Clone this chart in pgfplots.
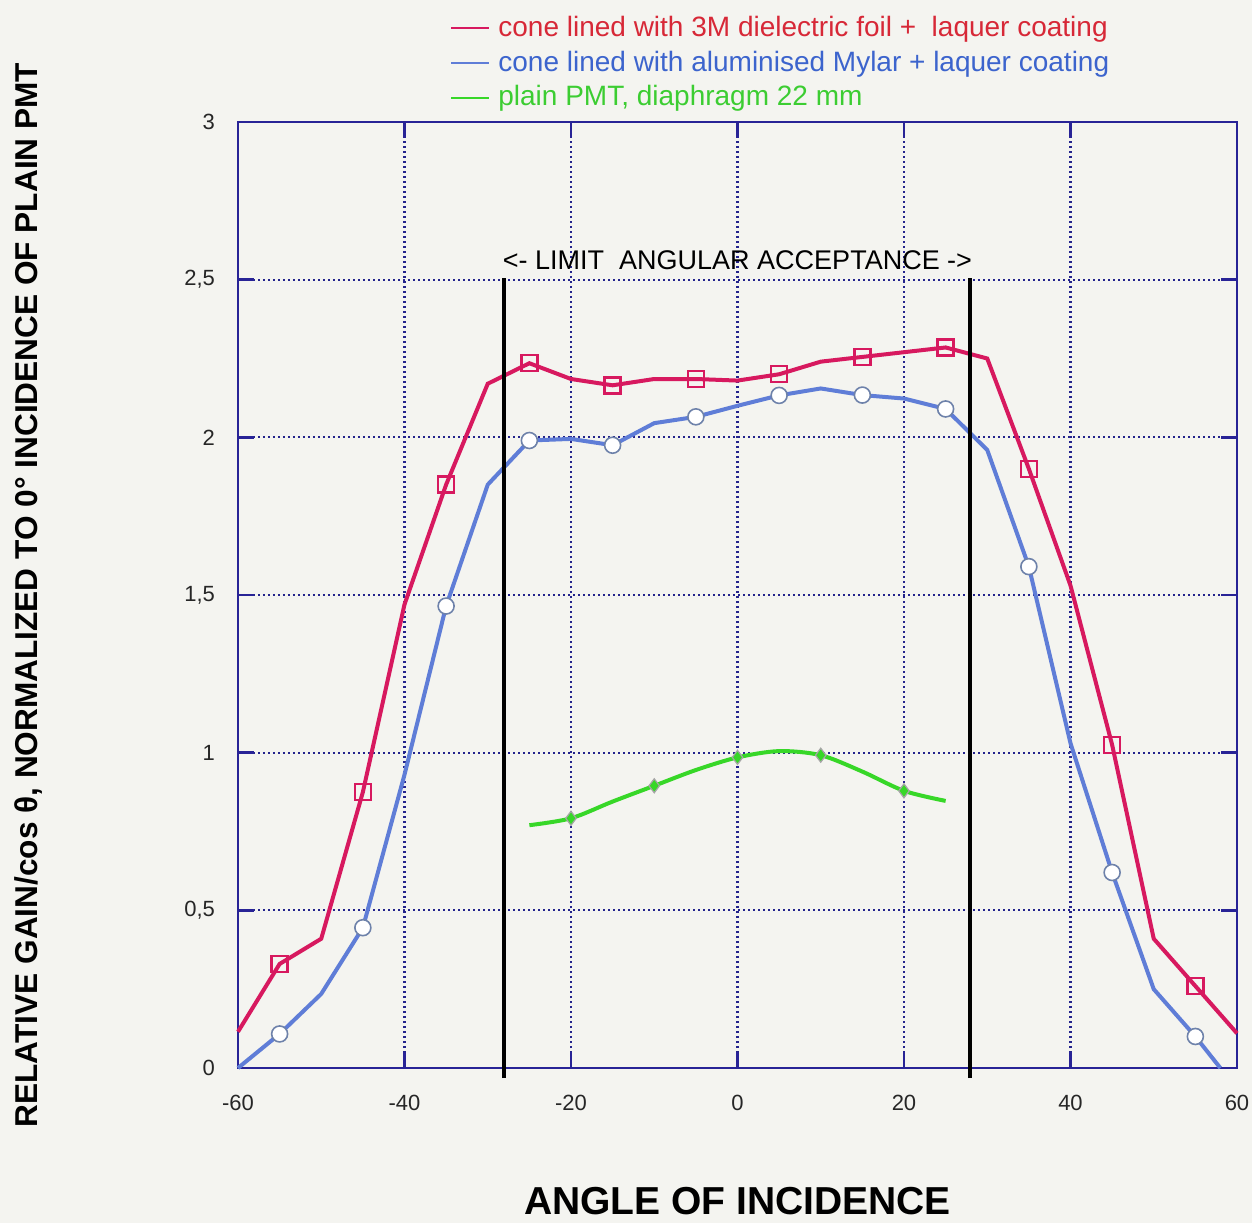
\documentclass[border=0pt]{standalone}
\usepackage{pgfplots}
\pgfplotsset{compat=1.18}
\usepackage{fontspec}
\setmainfont{Liberation Sans}
\definecolor{bg}{RGB}{244,244,240}
\definecolor{frame}{RGB}{40,35,150}
\definecolor{gridc}{RGB}{35,35,140}
\definecolor{redc}{RGB}{215,25,95}
\definecolor{bluec}{RGB}{95,125,215}
\definecolor{greenc}{RGB}{55,215,40}
\definecolor{legred}{RGB}{215,40,55}
\definecolor{legblue}{RGB}{60,100,205}
\definecolor{leggreen}{RGB}{60,205,50}
\definecolor{circc}{RGB}{110,130,170}
\begin{document}
\begin{tikzpicture}
\fill[bg] (-119pt,-77.5pt) rectangle (507pt,534pt);
\path[use as bounding box] (-119pt,-77.5pt) rectangle (507pt,534pt);
\begin{axis}[
  scale only axis, width=499.5pt, height=473pt,
  xmin=-60, xmax=60, ymin=0, ymax=3,
  xtick={-60,-40,...,60}, ytick={0,0.5,1,1.5,2,2.5,3},
  axis line style={draw=frame, line width=1pt},
  grid=major, major grid style={draw=gridc, dash pattern=on 1pt off 1.5pt, line width=1.1pt},
  tick align=inside, tick pos=both, major tick length=8pt,
  major tick style={draw=frame, line width=1.3pt},
  xticklabel pos=left, yticklabel pos=left,
  /pgf/number format/use comma, /pgf/number format/assume math mode=true,
  ticklabel style={font=\fontsize{11}{13}\selectfont, text=black!85},
  xticklabel style={yshift=-10pt}, yticklabel style={xshift=-8pt},
  clip=false,
  xlabel={ANGLE OF INCIDENCE},
  xlabel style={at={(axis description cs:0.5,-0.141)}, anchor=center, font=\bfseries\fontsize{19.5}{21}\selectfont},
  ylabel={RELATIVE GAIN/cos θ, NORMALIZED TO 0° INCIDENCE OF PLAIN PMT},
  every axis y label/.style={at={(axis description cs:-0.21,0.5)}, rotate=90, anchor=center, font=\bfseries\fontsize{15.8}{17}\selectfont},
  legend style={at={(axis description cs:0.2122,1.1163)}, anchor=north west, draw=none, fill=none,
     font=\fontsize{14}{16}\selectfont, inner sep=0pt, row sep=1.4pt,
     nodes={inner sep=1pt, text height=11pt, text depth=3pt}},
  legend cell align=left,
  legend image code/.code={\draw[#1, mark=none, line width=1pt] (0pt,0pt) -- (19pt,0pt);},
]
\addplot[redc, line width=2pt, mark=square, mark size=4pt, mark repeat=2, mark phase=2,
  mark options={draw=redc, fill=bg, line width=1.2pt}] coordinates {
(-60,0.115) (-55,0.33) (-50,0.41) (-45,0.875) (-40,1.47) (-35,1.85) (-30,2.17)
(-25,2.235) (-20,2.185) (-15,2.165) (-10,2.185) (-5,2.185) (0,2.18) (5,2.20)
(10,2.24) (15,2.255) (20,2.27) (25,2.285) (30,2.25) (35,1.90) (40,1.53)
(45,1.025) (50,0.41) (55,0.26) (60,0.11)};
\addlegendentry{\hspace{3pt}\textcolor{legred}{cone lined with 3M dielectric foil +\ \ laquer coating}}
\addplot[bluec, line width=2pt, mark=*, mark size=4pt, mark repeat=2, mark phase=2,
  mark options={draw=circc, fill=white, line width=0.8pt}] coordinates {
(-60,0.0) (-55,0.108) (-50,0.235) (-45,0.445) (-40,0.93) (-35,1.465) (-30,1.85)
(-25,1.99) (-20,1.995) (-15,1.975) (-10,2.045) (-5,2.065) (0,2.10) (5,2.133)
(10,2.155) (15,2.134) (20,2.123) (25,2.09) (30,1.96) (35,1.59) (40,1.03)
(45,0.62) (50,0.25) (55,0.10) (58,0.0)};
\addlegendentry{\hspace{3pt}\textcolor{legblue}{cone lined with aluminised Mylar + laquer coating}}
\addplot[greenc, line width=2pt, smooth, mark=diamond*, mark size=3.5pt, mark repeat=2, mark phase=2,
  mark options={draw=gray!70, fill=greenc, line width=0.6pt}] coordinates {
(-25,0.77) (-20,0.792) (-15,0.845) (-10,0.895) (-5,0.945) (0,0.985) (5,1.005)
(10,0.992) (15,0.94) (20,0.879) (25,0.847)};
\addlegendentry{\hspace{3pt}\textcolor{leggreen}{plain PMT, diaphragm 22 mm}}
\addplot[black, line width=2pt, forget plot] coordinates {(-28.1,-0.032) (-28.1,2.505)};
\addplot[black, line width=2pt, forget plot] coordinates {(27.9,-0.032) (27.9,2.505)};
\node[font=\fontsize{13.5}{15}\selectfont, text=black] at (axis cs:0,2.563) {<- LIMIT\ \ ANGULAR ACCEPTANCE ->};
\end{axis}
\end{tikzpicture}
\end{document}
